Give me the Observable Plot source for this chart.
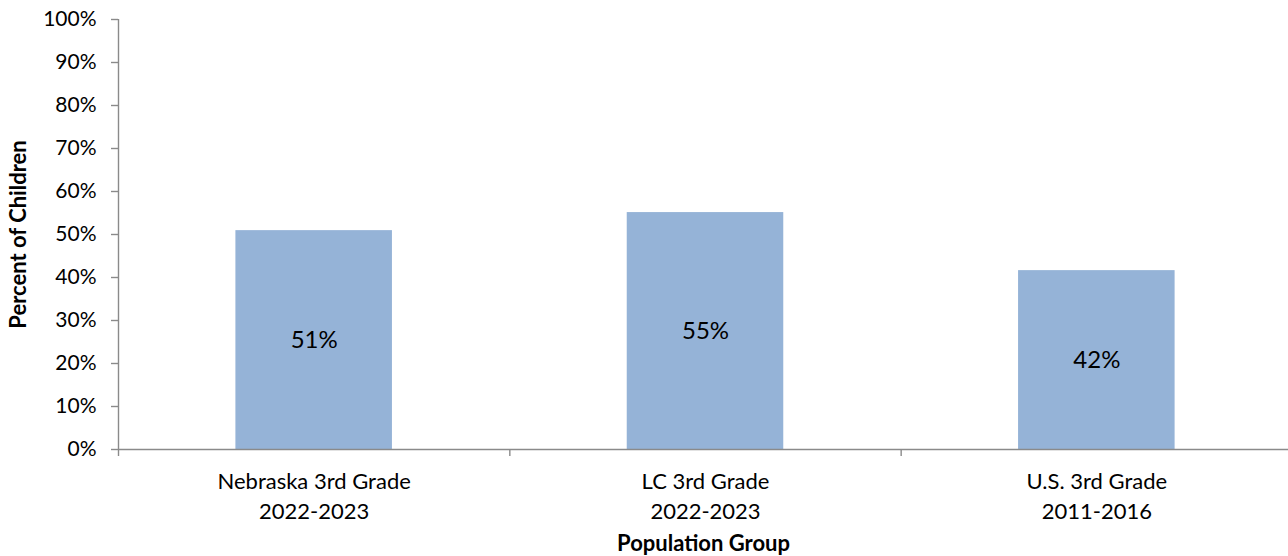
<!DOCTYPE html>
<html>
<head>
<meta charset="utf-8">
<script src="https://cdn.jsdelivr.net/npm/d3@7"></script>
<script src="https://cdn.jsdelivr.net/npm/@observablehq/plot@0.6"></script>
<style>
  html, body { margin: 0; padding: 0; background: #fff; overflow: hidden; }
</style>
</head>
<body>
<div id="chart"></div>
<script>
const categories = ["Nebraska 3rd Grade\n2022-2023", "LC 3rd Grade\n2022-2023", "U.S. 3rd Grade\n2011-2016"];
const values = [0.509, 0.551, 0.416];
const yTicks = [0, 0.1, 0.2, 0.3, 0.4, 0.5, 0.6, 0.7, 0.8, 0.9, 1.0];
const xLabelTicks = [0.5, 1.5, 2.5];
const xBoundaryTicks = [0, 1, 2, 3];
const xTitle = "Population Group";
const yTitle = "Percent of Children";

const data = categories.map((c, i) => ({cat: c, i, value: values[i]}));
const pct = d3.format(".0%");
const gray = "#8a8a8a";

const chart = Plot.plot({
  width: 1288,
  height: 556,
  marginTop: 19,
  marginBottom: 107,
  marginLeft: 118,
  marginRight: 0,
  style: {fontFamily: "Lato, 'Open Sans', sans-serif", fontSize: "21px", color: "#000", background: "#fff"},
  x: {domain: [0, 3], range: [118, 1292]},
  y: {domain: [0, 1]},
  marks: [
    Plot.rectY(data, {x1: d => d.i + 0.3, x2: d => d.i + 0.7, y: "value", fill: "#95b3d7"}),
    Plot.text(data, {x: d => d.i + 0.5, y: d => d.value / 2, text: d => pct(d.value), fontSize: 24, fill: "#000"}),
    Plot.ruleX([0], {stroke: gray, strokeWidth: 1.4}),
    Plot.ruleY([0], {stroke: gray, strokeWidth: 1.4}),
    Plot.axisY({
      ticks: yTicks, tickFormat: pct, tickSize: 7, tickPadding: 15,
      stroke: gray, strokeWidth: 1.4, strokeOpacity: 1, fontSize: 21,
      label: yTitle, labelAnchor: "center", labelArrow: "none", labelOffset: 108
    }),
    Plot.axisX({
      ticks: xBoundaryTicks, tickFormat: () => "", tickSize: 7,
      stroke: gray, strokeWidth: 1.4, strokeOpacity: 1, label: null
    }),
    Plot.axisX({
      ticks: xLabelTicks, tickFormat: v => categories[Math.floor(v)], tickSize: 0, tickPadding: 18,
      lineHeight: 1.36, fontSize: 22,
      label: xTitle, labelAnchor: "center", labelArrow: "none", labelOffset: 101
    })
  ]
});

// bold axis titles
chart.querySelectorAll("g[aria-label='x-axis label'] text, g[aria-label='y-axis label'] text").forEach(t => {
  t.setAttribute("font-weight", "bold");
  t.setAttribute("font-size", "22");
});
document.getElementById("chart").appendChild(chart);
</script>
</body>
</html>
